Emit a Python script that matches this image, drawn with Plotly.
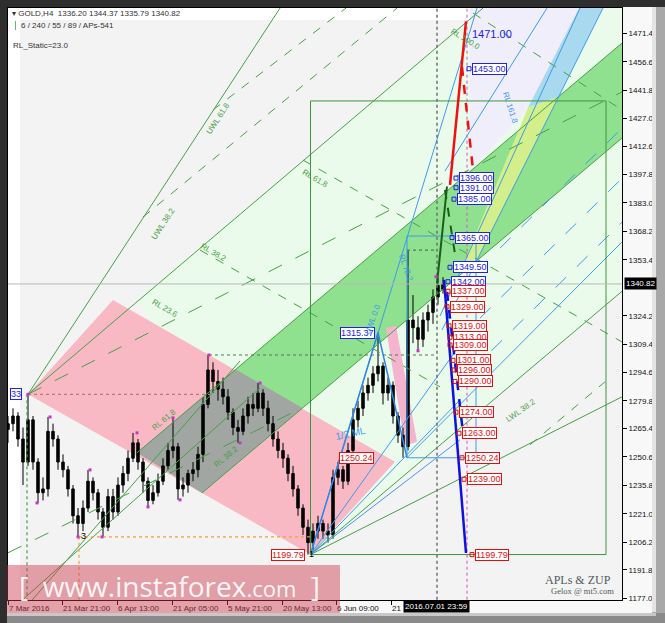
import plotly.graph_objects as go

# ---------------- data (day index from 7 Mar 2016, price) ----------------
day = list(range(88))
opens = [1265,1268,1272,1260,1248,1270,1248,1232,1234,1264,1260,1248,1244,1234,1220,1216,1224,1238,1232,1222,
         1214,1230,1222,1236,1242,1250,1258,1248,1238,1228,1232,1238,1246,1254,1256,1234,1236,1242,1244,1252,
         1278,1296,1290,1286,1282,1274,1266,1264,1272,1278,1276,1284,1276,1268,1260,1254,1250,1242,1234,1224,
         1214,1206,1212,1216,1212,1210,1240,1244,1238,1254,1270,1276,1284,1288,1294,1298,1284,1288,1272,1262,
         1256,1322,1318,1312,1322,1326,1334,1338]
highs = [1272,1276,1274,1266,1283.3,1272,1250,1240,1271.5,1268,1262,1252,1246,1236,1224,1228,1243.9,1240,1234,1224,
         1234,1234,1240,1246,1254,1263.2,1260,1250,1240,1236,1242,1250,1258,1271,1258,1240,1244,1248,1256,1282,
         1303.8,1300,1296,1292,1286,1276,1270,1276,1282,1284,1289.2,1286,1280,1272,1264,1258,1252,1246,1236,1226,
         1218,1216,1220,1218,1216,1244,1248,1246,1258,1276,1280,1288,1292,1298,1315.37,1300,1292,1290,1274,1266,
         1358,1335,1324,1326,1330,1338,1344,1344.37]
lows = [1258,1264,1256,1236,1246,1244,1226.7,1228,1230,1256,1244,1240,1230,1216,1209,1212,1222,1228,1218,1209,
        1212,1218,1220,1232,1238,1248,1244,1232,1224.6,1226,1230,1236,1244,1250,1228.3,1230,1232,1238,1240,1248,
        1276,1284,1280,1278,1270,1262,1258,1262,1268,1272,1274,1272,1264,1256,1250,1245,1238,1230,1220,1210,
        1199.79,1202,1208,1208,1206,1208,1236,1234,1236,1252,1266,1272,1280,1284,1290,1278,1280,1268,1258,1250.24,
        1254,1310,1306,1308,1316,1320,1330,1335.79]
closes = [1268,1272,1260,1248,1270,1248,1232,1234,1264,1260,1248,1244,1234,1220,1216,1224,1238,1232,1222,1214,
          1230,1222,1236,1242,1250,1258,1248,1238,1228,1232,1238,1246,1254,1256,1234,1236,1242,1244,1252,1278,
          1296,1290,1286,1282,1274,1266,1264,1272,1278,1276,1284,1276,1268,1260,1254,1250,1242,1234,1224,1214,
          1206,1212,1216,1212,1210,1240,1244,1238,1254,1270,1276,1284,1288,1294,1298,1284,1288,1272,1262,1256,
          1322,1318,1312,1322,1326,1334,1340,1340.82]

pivot_days = [4.0, 8.4, 5.8, 16.4, 14.0, 18.8, 25.8, 28.0, 33.0, 34.4, 40.2, 46.4, 50.4, 82.0, 85.6]
pivot_prices = [1283.3, 1271.5, 1226.7, 1243.9, 1209.0, 1209.0, 1263.2, 1224.6, 1271.0, 1228.3, 1303.8, 1258.0, 1289.2, 1306.0, 1344.6]

ytick_text = ["1471.46","1456.66","1441.86","1427.06","1412.66","1397.86","1383.06","1368.26","1353.46",
              "1324.26","1309.46","1294.66","1279.86","1265.46","1250.66","1235.86","1221.06","1206.26","1191.86","1177.06"]
xtick_days = [0, 10.8, 21.8, 32.8, 43.8, 54.8, 65.6, 76.6]
xtick_text = ["7 Mar 2016","21 Mar 21:00","6 Apr 13:00","21 Apr 05:00","5 May 21:00","20 May 13:00","6 Jun 09:00","21"]

blue_levels = [1453.00, 1396.00, 1391.00, 1385.00, 1365.00, 1349.50, 1342.00]
blue_level_days = [92.8, 90.2, 90.2, 89.8, 89.4, 89.0, 88.6]
red_levels = [1337.00, 1329.00, 1319.00, 1313.00, 1309.00, 1301.00, 1296.00, 1290.00, 1274.00, 1263.00, 1250.24, 1239.00, 1199.79]
red_level_days = [88.6, 88.4, 88.8, 89.0, 89.0, 89.6, 89.8, 90.0, 90.2, 90.8, 91.4, 91.8, 93.4]

# pitchfork / channel objects (day, price)
pink_poly = [(4.0,1283.3),(21.0,1332.5),(77.4,1248.1),(60.5,1199.8)]
pink_small = [(75.6,1317.9),(77.6,1319.0),(81.8,1258.6),(79.4,1256.5)]
green_band = [(25.8,1252.8),(130,1482.2),(130,1432.7),(38.8,1231.9)]
gray_poly = [(25.8,1252.8),(45.5,1296.3),(58.9,1276.2),(38.8,1231.9)]
pale_green = [(25.8,1332.5),(97.5,1490),(130,1490),(130,1352.7),(60.5,1199.8)]
lavender = [(92.4,1490),(115.3,1490),(104.0,1432.75),(92.4,1399.4)]
light_blue = [(104.0,1432.75),(115.3,1490),(120.0,1490),(110.1,1438.27)]
yellow = [(90.0,1344.5),(104.0,1432.75),(110.1,1438.27),(93.7,1352.7)]
box_rect = [(60.5,1199.79),(119.6,1436.2)]
zup_box = [(79.8,1250.24),(93.6,1365.8)]

green_solid = [[(4.0,1283.3),(54.4,1484.6)], [(4.0,1283.3),(95.0,1484.6)],
               [(60.5,1199.8),(122.8,1337.0)], [(60.5,1199.8),(122.8,1282.0)],
               [(25.8,1252.8),(130,1482.2)], [(38.8,1231.9),(130,1432.7)],
               [(4.8,1176.0),(46.4,1300.7)], [(2.4,1175.0),(50.4,1286.6)]]
green_longdash = [[(4.0,1283.3),(122.8,1440.9)], [(0.0,1200.7),(58.4,1275.7)]]
green_dot = [[(27.0,1375.7),(77.8,1484.6)], [(41.0,1431.5),(67.6,1484.6)],
             [(59.0,1405.4),(122.8,1310.6)], [(38.4,1358.5),(86.4,1287.2)],
             [(93.0,1482.0),(122.8,1431.5)], [(104.4,1257.0),(119.4,1289.8)]]
blue_thin = [[(60.5,1199.8),(93.8,1484.6)], [(79.8,1250.24),(122.8,1362.7)],
             [(86.4,1324.1),(114.4,1484.6)], [(86.8,1316.8),(119.0,1484.6)],
             [(87.4,1399.7),(107.8,1484.6)],
             [(60.5,1199.8),(90.4,1309.1)], [(60.5,1199.8),(90.4,1280.4)], [(60.5,1199.8),(90.4,1259.6)]]
blue_dash = [[(94.4,1323.0),(122.8,1395.9)], [(98.4,1359.5),(122.8,1422.0)], [(92.4,1295.0),(122.8,1373.0)]]
zup_line = [(60.5,1199.8),(74.0,1315.37),(79.8,1250.24)]

# ---------------- helpers ----------------
L, R, T, B = 8, 43, 8, 23
W, H = 665, 623
PW, PH = W - L - R, H - T - B
def px(x): return (x - L) / PW
def py(y): return (H - B - y) / PH

fig = go.Figure()
shapes = []

def poly(pts, color):
    path = "M " + " L ".join(f"{x},{y}" for x, y in pts) + " Z"
    shapes.append(dict(type='path', xref='x', yref='y', path=path, fillcolor=color,
                       line=dict(width=0), layer='below'))

def seg(pts, color, width=1, dash='solid'):
    fig.add_trace(go.Scatter(x=[p[0] for p in pts], y=[p[1] for p in pts], mode='lines',
                             line=dict(color=color, width=width, dash=dash),
                             hoverinfo='skip', showlegend=False))

poly([(2.4,1170),(2.4,1478.4),(130,1478.4),(130,1170)], '#f3f3f3')
poly(pale_green, '#ebfbeb')
poly(lavender, '#efeefa')
poly(green_band, '#8fe08f')
poly(light_blue, '#a9d9ef')
poly(yellow, '#d3ef8c')
poly(pink_poly, '#f8b9c4')
poly(gray_poly, '#a2a6a2')
poly(pink_small, '#f4b4d0')

GC = '#46a046'
for s in green_solid: seg(s, GC, 1)
for s in green_longdash: seg(s, GC, 1, 'longdash')
for s in green_dot: seg(s, GC, 1, 'dash')
BC = '#3d9be9'
for s in blue_thin: seg(s, BC, 1)
for s in blue_dash: seg(s, BC, 1, 'longdash')
seg(zup_line, '#2f86e6', 1.5)

(x0, y0), (x1, y1) = box_rect
seg([(x0,y0),(x1,y0),(x1,y1),(x0,y1),(x0,y0)], '#3c963c', 1)
(x0, y0), (x1, y1) = zup_box
seg([(x0,y0),(x1,y0),(x1,y1),(x0,y1),(x0,y0)], BC, 1)

seg([(85.8,1170),(85.8,1490)], '#707070', 1.5, 'dot')
seg([(91.8,1170),(91.8,1490)], '#cc55cc', 1, 'dot')
seg([(3.8,1283.3),(3.8,1170)], GC, 1.2, 'dot')
seg([(14.2,1209.0),(14.2,1170)], '#f0a040', 1.2, 'dot')
seg([(14.2,1209.0),(60.5,1209.0)], '#f0a040', 1.2, 'dot')
seg([(4.0,1283.3),(40.4,1283.3)], '#b0806a', 1.2, 'dot')
seg([(40.2,1303.8),(85.8,1303.8)], '#557755', 1.2, 'dot')
seg([(79.8,1358.5),(85.8,1358.5)], '#557755', 1.2, 'dot')
seg([(0,1340.82),(130,1340.82)], '#b8b8b8', 1)

fig.add_trace(go.Candlestick(x=day, open=opens, high=highs, low=lows, close=closes,
                             increasing=dict(line=dict(color='black', width=1), fillcolor='black'),
                             decreasing=dict(line=dict(color='black', width=1), fillcolor='black'),
                             whiskerwidth=0, hoverinfo='skip', showlegend=False))

seg([(88.4,1392.4),(91.6,1477.7)], '#ee1111', 2.5)
seg([(90.8,1453.9),(93.0,1400.2)], '#ee1111', 2.5, 'dash')
seg([(85.8,1341.0),(87.8,1391.6)], '#1a5e1a', 2)
seg([(87.4,1389.8),(89.8,1349.7)], '#1a5e1a', 2, 'dash')
seg([(87.2,1342.9),(91.6,1200.6)], '#1010dd', 2.5)
seg([(87.8,1336.7),(91.0,1263.2)], '#1010dd', 2.5, 'dash')

fig.add_trace(go.Scatter(x=pivot_days, y=pivot_prices, mode='markers',
                         marker=dict(symbol='square', size=3, color='#cc33cc'),
                         hoverinfo='skip', showlegend=False))
fig.add_trace(go.Scatter(x=[d - 0.6 for d in blue_level_days], y=blue_levels, mode='markers',
                         marker=dict(symbol='square-open', size=4, color='#2222dd'), hoverinfo='skip', showlegend=False))
fig.add_trace(go.Scatter(x=[d - 0.6 for d in red_level_days], y=red_levels, mode='markers',
                         marker=dict(symbol='square-open', size=4, color='#e01010'), hoverinfo='skip', showlegend=False))

ann = []
LF = 'Liberation Sans, Arial, sans-serif'
for v, d in zip(blue_levels, blue_level_days):
    ann.append(dict(x=d, y=v, xref='x', yref='y', text=f"{v:.2f}", showarrow=False, xanchor='left', yanchor='middle',
                    font=dict(family=LF, size=9, color='#2222dd'), bgcolor='white', bordercolor='#2222dd',
                    borderwidth=1, borderpad=0))
for v, d in zip(red_levels, red_level_days):
    ann.append(dict(x=d, y=v, xref='x', yref='y', text=f"{v:.2f}", showarrow=False, xanchor='left', yanchor='middle',
                    font=dict(family=LF, size=9, color='#e01010'), bgcolor='white', bordercolor='#e01010',
                    borderwidth=1, borderpad=0))
ann.append(dict(x=92.4, y=1471.0, xref='x', yref='y', text="1471.00", showarrow=False, xanchor='left',
                font=dict(family=LF, size=11, color='#2222dd')))
for txt, d, v, col in [("1315.37", 73.4, 1315.37, '#2222dd'), ("1250.24", 73.2, 1250.24, '#e01010'),
                       ("1199.79", 59.4, 1199.79, '#e01010'), ("33", 2.8, 1283.3, '#2222dd')]:
    ann.append(dict(x=d, y=v, xref='x', yref='y', text=txt, showarrow=False, xanchor='right', yanchor='middle',
                    font=dict(family=LF, size=9, color=col), bgcolor='white', bordercolor=col,
                    borderwidth=1, borderpad=0))

for txt, x, y, ang, col in [("UWL 61.8", 218, 98, -57, GC), ("UWL 38.2", 147, 203, -57, GC),
                            ("RL 61.8", 315, 165, 30, GC), ("RL 38.2", 213, 253, 30, GC),
                            ("RL 23.6", 148, 308, 30, GC), ("RL 61.8", 148, 435, -40, GC),
                            ("RL 38.2", 210, 472, -40, GC), ("LWL 38.2", 540, 427, -35, GC),
                            ("RL 100.0", 485, 24, 32, GC), ("RL 161.8", 522, 88, 72, BC),
                            ("UWL 0.0", 373, 320, -70, BC), ("RL 78.2", 418, 268, 70, BC),
                            ("1/2 ML", 350, 444, -12, BC)]:
    ann.append(dict(x=px(x), y=py(y), xref='paper', yref='paper', text=txt, showarrow=False, textangle=ang,
                    font=dict(family=LF, size=8 if txt != "1/2 ML" else 10, color=col)))
ann.append(dict(x=px(79), y=py(543), xref='paper', yref='paper', text="3", showarrow=False,
                font=dict(family=LF, size=9, color='black')))
ann.append(dict(x=px(311), y=py(561), xref='paper', yref='paper', text="1", showarrow=False,
                font=dict(family=LF, size=9, color='black')))

ann.append(dict(x=px(10), y=py(14), xref='paper', yref='paper', xanchor='left', yanchor='middle', showarrow=False,
                text="▾ GOLD,H4  1336.20 1344.37 1335.79 1340.82", font=dict(family=LF, size=8, color='#333333')))
ann.append(dict(x=px(19), y=py(25.5), xref='paper', yref='paper', xanchor='left', yanchor='middle', showarrow=False,
                text="6 / 240 / 55 / 89 / APs-541", font=dict(family=LF, size=8, color='#333333')))
ann.append(dict(x=px(11), y=py(46), xref='paper', yref='paper', xanchor='left', yanchor='middle', showarrow=False,
                text="RL_Static=23.0", font=dict(family=LF, size=8, color='#333333')))
ann.append(dict(x=px(613), y=py(580), xref='paper', yref='paper', xanchor='right', yanchor='middle', showarrow=False,
                text="APLs & ZUP", font=dict(family='Liberation Serif, serif', size=12, color='#505a60')))
ann.append(dict(x=px(616), y=py(591), xref='paper', yref='paper', xanchor='right', yanchor='middle', showarrow=False,
                text="Gelox @ mt5.com", font=dict(family='Liberation Serif, serif', size=8.5, color='#505a60')))

ann.append(dict(x=px(624), y=1340.82, xref='paper', yref='y', xanchor='left', yanchor='middle', showarrow=False,
                text="1340.82", bgcolor='black', font=dict(family=LF, size=8, color='white'), borderpad=1))
ann.append(dict(x=px(403), y=py(606.5), xref='paper', yref='paper', xanchor='left', yanchor='middle', showarrow=False,
                text="2016.07.01 23:59", bgcolor='black', font=dict(family=LF, size=8, color='white'), borderpad=1))

ann.append(dict(x=px(17), y=py(607), xref='paper', yref='paper', xanchor='left', yanchor='bottom', showarrow=False,
                text="[  www.instaforex<span style='font-size:22px'>.com</span>  ]",
                font=dict(family='Open Sans, sans-serif', size=28, color='rgba(255,255,255,0.92)')))

shapes += [
    dict(type='rect', xref='paper', yref='paper', x0=px(0), x1=px(340), y0=py(623), y1=py(565),
         fillcolor='rgba(205,55,75,0.45)', line=dict(width=0), layer='above'),
    dict(type='rect', xref='paper', yref='paper', x0=px(0), x1=px(665), y0=py(7), y1=py(0),
         fillcolor='#2e2e2e', line=dict(width=0), layer='above'),
    dict(type='rect', xref='paper', yref='paper', x0=px(0), x1=px(7), y0=py(623), y1=py(0),
         fillcolor='#2e2e2e', line=dict(width=0), layer='above'),
    dict(type='rect', xref='paper', yref='paper', x0=px(652), x1=px(665), y0=py(623), y1=py(7),
         fillcolor='#a8a8a8', line=dict(width=0), layer='above'),
    dict(type='rect', xref='paper', yref='paper', x0=px(652), x1=px(656), y0=py(612), y1=py(7),
         fillcolor='#e4e4e4', line=dict(width=0), layer='above'),
    dict(type='rect', xref='paper', yref='paper', x0=px(7), x1=px(665), y0=py(623), y1=py(613),
         fillcolor='#8a8a8a', line=dict(width=0), layer='above'),
    dict(type='rect', xref='paper', yref='paper', x0=px(7), x1=px(656), y0=py(616), y1=py(613),
         fillcolor='#c8c8c8', line=dict(width=0), layer='above'),
    dict(type='line', xref='paper', yref='paper', x0=px(15.5), x1=px(15.5), y0=py(21), y1=py(30),
         line=dict(color='#66bb66', width=1), layer='above'),
]

fig.update_layout(
    width=W, height=H, margin=dict(l=L, r=R, t=T, b=B, autoexpand=False),
    paper_bgcolor='#f8f8f8', plot_bgcolor='white', hovermode=False,
    showlegend=False, annotations=ann, shapes=shapes,
    xaxis=dict(range=[0, 122.8], showgrid=False, zeroline=False, rangeslider=dict(visible=False),
               automargin=False, tickangle=0,
               tickvals=xtick_days, ticktext=xtick_text, ticks='outside', ticklen=4, tickcolor='black',
               ticklabelposition='outside right', tickfont=dict(family=LF, size=8, color='#111111'),
               showline=True, linecolor='black', linewidth=1, mirror=True),
    yaxis=dict(range=[1176.1, 1484.64], side='right', showgrid=False, zeroline=False, automargin=False,
               tickvals=[float(t) for t in ytick_text], ticktext=ytick_text, ticks='outside', ticklen=4,
               tickcolor='black', tickfont=dict(family=LF, size=8, color='#111111'),
               showline=True, linecolor='black', linewidth=1, mirror=True),
)
fig.write_html("out.html", config={'displayModeBar': False, 'staticPlot': True},
               post_script="document.body.style.margin='0px';document.body.style.overflow='hidden';")
